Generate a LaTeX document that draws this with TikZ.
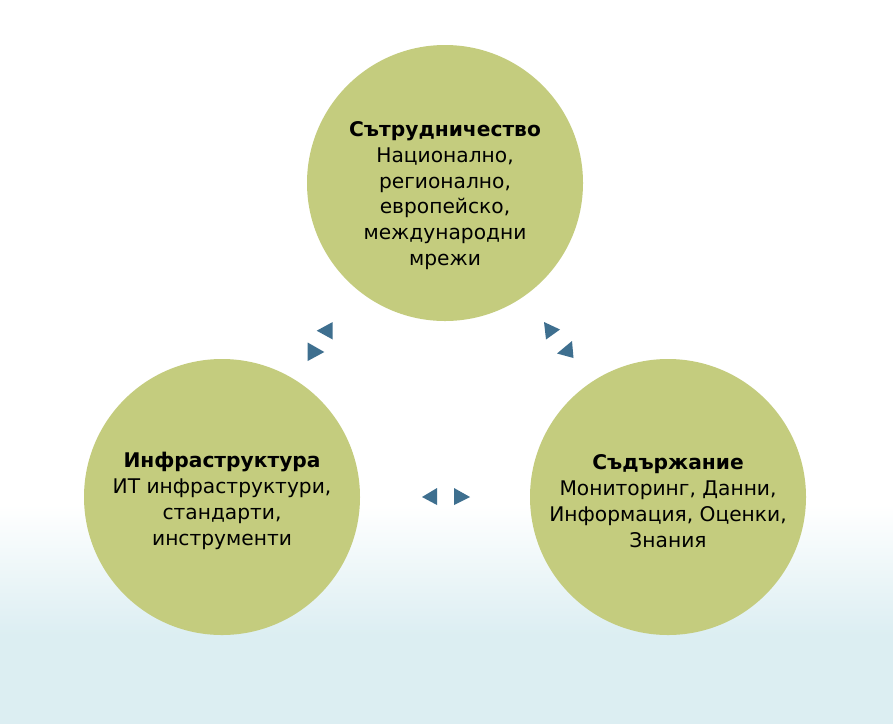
\documentclass[tikz,border=0pt]{standalone}
\usepackage{fontspec}
\setmainfont{DejaVu Sans}
\definecolor{circ}{HTML}{C4CC7E}
\definecolor{tri}{HTML}{3E6F8F}
\definecolor{bgblue}{HTML}{DCEEF2}
\begin{document}
\begin{tikzpicture}[x=1pt,y=-1pt,
  bubble/.style={circle, fill=circ, draw=none, minimum size=276pt, inner sep=0pt},
  btext/.style={align=center, font=\fontsize{20.2}{25.8}\selectfont, text=black},
  tip/.style={fill=tri, draw=none}]
\useasboundingbox (0,0) rectangle (893,724);
\fill[white] (0,0) rectangle (893,724);
\shade[top color=white, bottom color=bgblue] (0,505) rectangle (893,635);
\fill[bgblue] (0,634) rectangle (893,724);
\node[bubble] (top) at (445,183) {};
\node[bubble] (left) at (222,497) {};
\node[bubble] (right) at (668,497) {};
\node[btext] (ttop) at (445,195.5) {\textbf{Сътрудничество}\\Национално,\\регионално,\\европейско,\\международни\\мрежи};
\node[btext] (tleft) at (222,501) {\textbf{Инфраструктура}\\ИТ инфраструктури,\\стандарти,\\инструменти};
\node[btext] (tright) at (668,501) {\textbf{Съдържание}\\Мониторинг, Данни,\\Информация, Оценки,\\Знания};
% top-left pair
\fill[tip] (316.7,330.7) -- (332.7,322) -- (332.7,339.5) -- cycle;
\fill[tip] (307.7,342.5) -- (307.7,361) -- (324.3,352) -- cycle;
% top-right pair
\fill[tip] (544,322) -- (560,329.5) -- (546,339.5) -- cycle;
\fill[tip] (572,341) -- (573.5,358) -- (557,353.5) -- cycle;
% middle pair
\fill[tip] (422,497) -- (437,488) -- (437,505) -- cycle;
\fill[tip] (470,497) -- (454,488) -- (454,505) -- cycle;
\end{tikzpicture}
\end{document}
